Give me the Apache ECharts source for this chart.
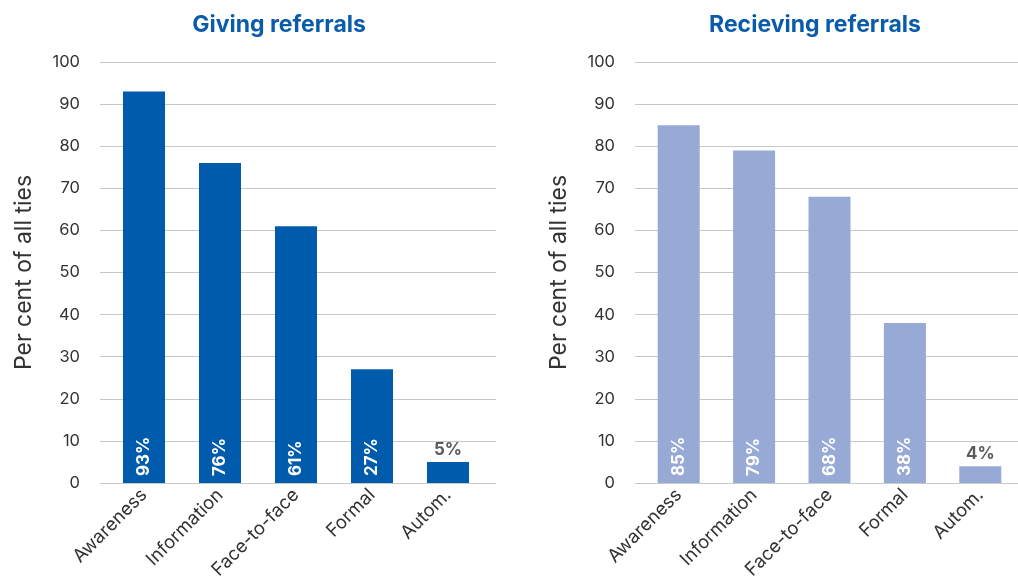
<!DOCTYPE html>
<html>
<head>
<meta charset="utf-8">
<script src="https://cdn.jsdelivr.net/npm/echarts@6/dist/echarts.min.js"></script>
<style>html,body{margin:0;padding:0;background:#fff;}#c{width:1018px;height:582px;}</style>
</head>
<body>
<div id="c"></div>
<script>
const categories = ['Awareness', 'Information', 'Face-to-face', 'Formal', 'Autom.'];
const givingValues = [93, 76, 61, 27, 5];
const receivingValues = [85, 79, 68, 38, 4];
const titles = ['Giving referrals', 'Recieving referrals'];
const yAxisName = 'Per cent of all ties';
const yTicks = [0, 10, 20, 30, 40, 50, 60, 70, 80, 90, 100];

const FONT = 'Inter';
const chart = echarts.init(document.getElementById('c'), null, {renderer: 'canvas'});

function labelFor(data) {
  return data.map(function (v) {
    if (v < 10) {
      return {value: v, label: {show: true, position: 'top', distance: 4, rotate: 0, align: 'center', verticalAlign: 'bottom', color: '#595959', fontSize: 17, fontWeight: 'bold', fontFamily: FONT, formatter: '{c}%'}};
    }
    return {value: v};
  });
}

const TOP = 62, HEIGHT = 421;
const option = {
  animation: false,
  backgroundColor: '#fff',
  title: [
    {text: titles[0], left: 274, top: 9, textAlign: 'center', textStyle: {color: '#0A5CAB', fontSize: 23, fontWeight: 'bold', fontFamily: FONT}},
    {text: titles[1], left: 810, top: 9, textAlign: 'center', textStyle: {color: '#0A5CAB', fontSize: 23, fontWeight: 'bold', fontFamily: FONT}}
  ],
  grid: [
    {left: 100, top: TOP, width: 396, height: HEIGHT},
    {left: 106, top: TOP, width: 380, height: HEIGHT},
    {left: 635, top: TOP, width: 383, height: HEIGHT},
    {left: 641, top: TOP, width: 380, height: HEIGHT}
  ],
  xAxis: [0, 1, 2, 3].map(function (g) {
    const isBars = g % 2 === 1;
    return {
      type: 'category', gridIndex: g, data: categories, show: isBars,
      axisLine: {show: false}, axisTick: {show: false},
      axisLabel: {show: isBars, rotate: 45, margin: 9, color: '#333', fontSize: 18.5, fontFamily: FONT, interval: 0}
    };
  }),
  yAxis: [0, 1, 2, 3].map(function (g) {
    const isLines = g % 2 === 0;
    return {
      type: 'value', gridIndex: g, min: 0, max: 100, interval: 10, show: isLines,
      name: isLines ? yAxisName : '', nameLocation: 'middle', nameGap: 64,
      nameTextStyle: {color: '#333', fontSize: 23, fontFamily: FONT},
      axisLine: {show: false}, axisTick: {show: false},
      axisLabel: {show: isLines, margin: 20, color: '#333', fontSize: 16.5, fontFamily: FONT,
        formatter: function (v) { return yTicks.indexOf(v) >= 0 ? String(v) : ''; }},
      splitLine: {show: isLines, lineStyle: {color: '#c8c8c8', width: 1.2}}
    };
  }),
  series: [
    {
      type: 'bar', xAxisIndex: 1, yAxisIndex: 1, data: labelFor(givingValues),
      barWidth: 42, itemStyle: {color: '#005BAC'},
      label: {show: true, position: 'insideBottom', distance: 7, rotate: 90, align: 'left', verticalAlign: 'middle',
        color: '#fff', fontSize: 17, fontWeight: 'bold', fontFamily: FONT, formatter: '{c}%'}
    },
    {
      type: 'bar', xAxisIndex: 3, yAxisIndex: 3, data: labelFor(receivingValues),
      barWidth: 42, itemStyle: {color: '#97A9D5'},
      label: {show: true, position: 'insideBottom', distance: 7, rotate: 90, align: 'left', verticalAlign: 'middle',
        color: '#fff', fontSize: 17, fontWeight: 'bold', fontFamily: FONT, formatter: '{c}%'}
    }
  ]
};
chart.setOption(option);
</script>
</body>
</html>
